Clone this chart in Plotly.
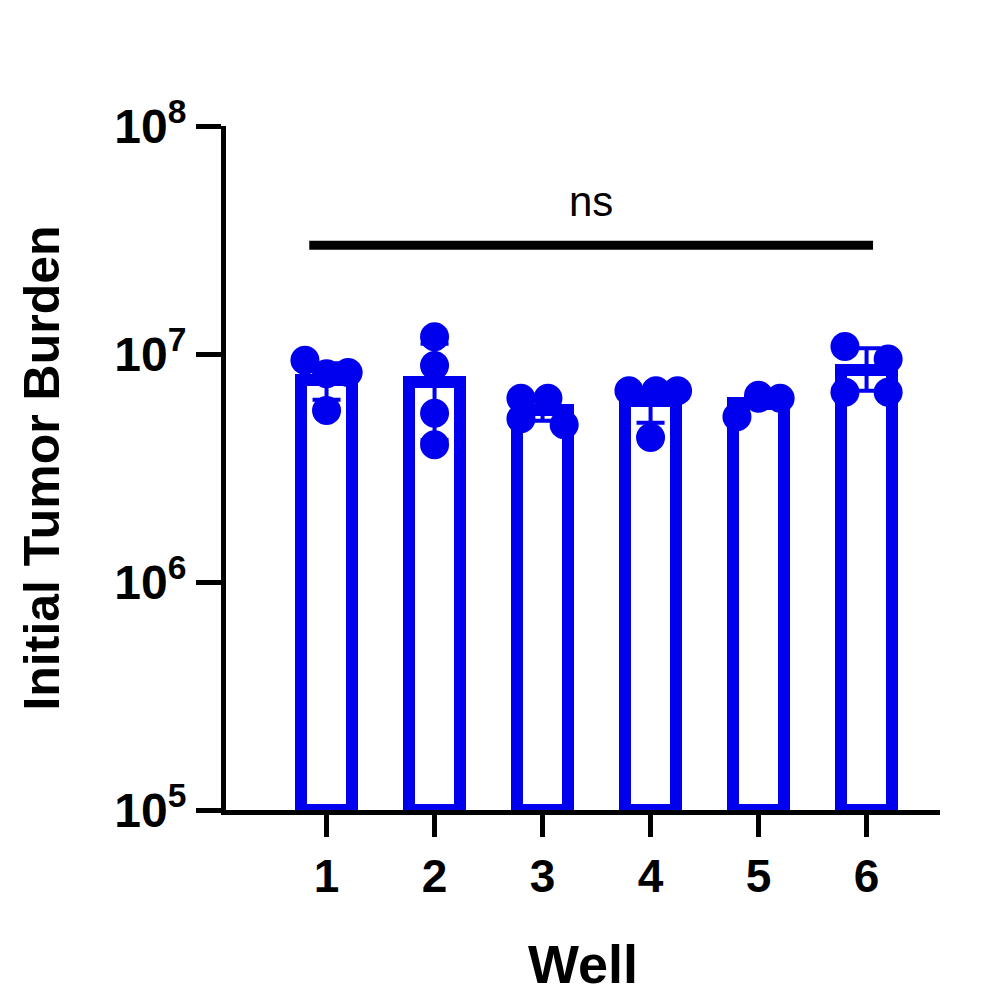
import plotly.graph_objects as go

wells = [1, 2, 3, 4, 5, 6]
means = [7.6e6, 7.4e6, 5.6e6, 6.1e6, 6.0e6, 8.4e6]
err_up = [9.0e6, 1.1e7, 6.4e6, 6.9e6, 6.4e6, 1.05e7]
err_dn = [6.2e6, 4.1e6, 5.0e6, 4.9e6, 5.7e6, 6.8e6]
points = [
    [9.4e6, 8.3e6, 8.2e6, 5.65e6],
    [1.19e7, 8.9e6, 5.5e6, 4.0e6],
    [6.4e6, 6.4e6, 4.9e6, 5.2e6],
    [6.9e6, 6.9e6, 6.9e6, 4.3e6],
    [6.4e6, 6.4e6, 6.6e6, 5.3e6],
    [1.08e7, 9.5e6, 6.8e6, 6.8e6],
]
offsets = [
    [-0.2, 0.2, 0.0, 0.0],
    [0.0, 0.0, 0.0, 0.0],
    [-0.2, 0.05, 0.2, -0.2],
    [-0.2, 0.05, 0.25, 0.0],
    [0.0, 0.2, 0.0, -0.2],
    [-0.2, 0.2, 0.2, -0.2],
]
blue = "#0000EE"

fig = go.Figure()
fig.add_trace(go.Bar(
    x=wells, y=means, width=0.47, base=1e5,
    marker=dict(color="white", line=dict(color=blue, width=12)),
    error_y=dict(type="data", symmetric=False,
                 array=[u - m for u, m in zip(err_up, means)],
                 arrayminus=[m - d for m, d in zip(means, err_dn)],
                 color=blue, thickness=4, width=14),
))
for w, pts, offs in zip(wells, points, offsets):
    fig.add_trace(go.Scatter(
        x=[w + o for o in offs], y=pts, mode="markers",
        marker=dict(color=blue, size=29), cliponaxis=False))
fig.add_trace(go.Scatter(x=[0.84, 6.06], y=[3.0e7, 3.0e7], mode="lines",
                         line=dict(color="black", width=9)))
fig.add_annotation(x=3.45, y=7.67, text="ns", showarrow=False,
                   font=dict(size=42, color="black", family="Liberation Sans"))

fig.update_layout(
    width=987, height=1006, showlegend=False, plot_bgcolor="white", paper_bgcolor="white",
    margin=dict(l=218, r=55, t=118, b=204), bargap=0,
    font=dict(family="Liberation Sans", color="black"),
    xaxis=dict(range=[0.069, 6.68], tickvals=wells, ticktext=[str(w) for w in wells],
               showgrid=False, zeroline=False, showline=True, linecolor="black", linewidth=5,
               ticks="outside", ticklen=22, tickwidth=5, tickcolor="black",
               tickfont=dict(size=46, family="Liberation Sans", weight="bold"),
               title=dict(text="<b>Well</b>", font=dict(size=54), standoff=45)),
    yaxis=dict(type="log", range=[5, 8], tickvals=[1e5, 1e6, 1e7, 1e8],
               ticktext=["<b>10<sup>5</sup></b>", "<b>10<sup>6</sup></b>",
                         "<b>10<sup>7</sup></b>", "<b>10<sup>8</sup></b>"],
               showgrid=False, zeroline=False, showline=True, linecolor="black", linewidth=5,
               ticks="outside", ticklen=25, tickwidth=5, tickcolor="black",
               tickfont=dict(size=48, family="Liberation Sans"),
               title=dict(text="<b>Initial Tumor Burden</b>", font=dict(size=50), standoff=40)),
)
fig.write_html("out.html")
